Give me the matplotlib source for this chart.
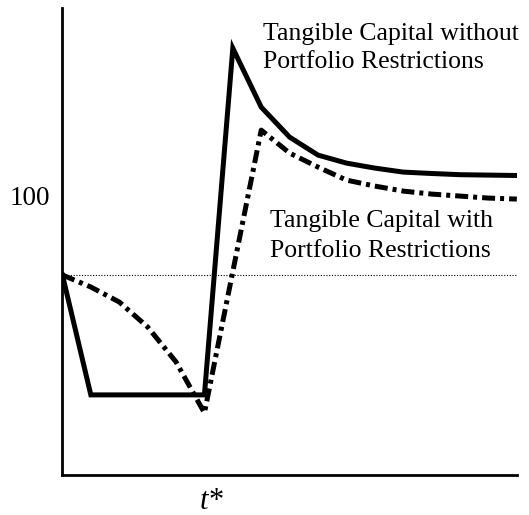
import matplotlib
matplotlib.use('Agg')
import matplotlib.pyplot as plt
import numpy as np

plt.rcParams['font.family'] = ['Liberation Serif', 'DejaVu Serif']

# periods after the shock, t* is the crash period
t = np.arange(0, 17)
without_restr = [80, 50, 50, 50, 50, 50, 136.75, 122, 114.5, 110, 108,
                 106.75, 105.75, 105.4, 105.1, 105, 104.9]
with_restr = [80, 77, 73.25, 67, 58.25, 45.5, 80.9, 116.25, 110.5, 107,
              103.75, 102.25, 101, 100.25, 99.75, 99.25, 99]
initial_level = 80

fig = plt.figure(figsize=(5.29, 5.15), dpi=100)
ax = fig.add_axes([0.118, 0.078, 0.859, 0.906])

ax.plot(t, without_restr, color='black', lw=3.6, solid_joinstyle='miter')
ax.plot(t, with_restr, color='black', lw=3.6, dashes=(2.6, 1.0, 0.8, 1.0),
        dash_capstyle='butt')
ax.axhline(initial_level, color='black', lw=0.8, ls=(0, (1, 1.5)))

ax.set_xlim(0, 16)
ax.set_ylim(30, 146.75)
ax.spines['top'].set_visible(False)
ax.spines['right'].set_visible(False)
ax.spines['left'].set_linewidth(2)
ax.spines['bottom'].set_linewidth(2)
ax.set_yticks([100])
ax.set_yticklabels(['100'], fontsize=19.5)
ax.tick_params(axis='y', length=0, pad=9)
ax.set_xticks([])

fig.text(0.399, 0.027, 't*', fontsize=22, style='italic', ha='center', va='center')
fig.text(0.497, 0.868, 'Tangible Capital without\nPortfolio Restrictions',
         fontsize=18.5, ha='left', va='baseline', linespacing=1.38)
fig.text(0.510, 0.501, 'Tangible Capital with\nPortfolio Restrictions',
         fontsize=18.5, ha='left', va='baseline', linespacing=1.45)

fig.savefig('out.png', dpi=100)
